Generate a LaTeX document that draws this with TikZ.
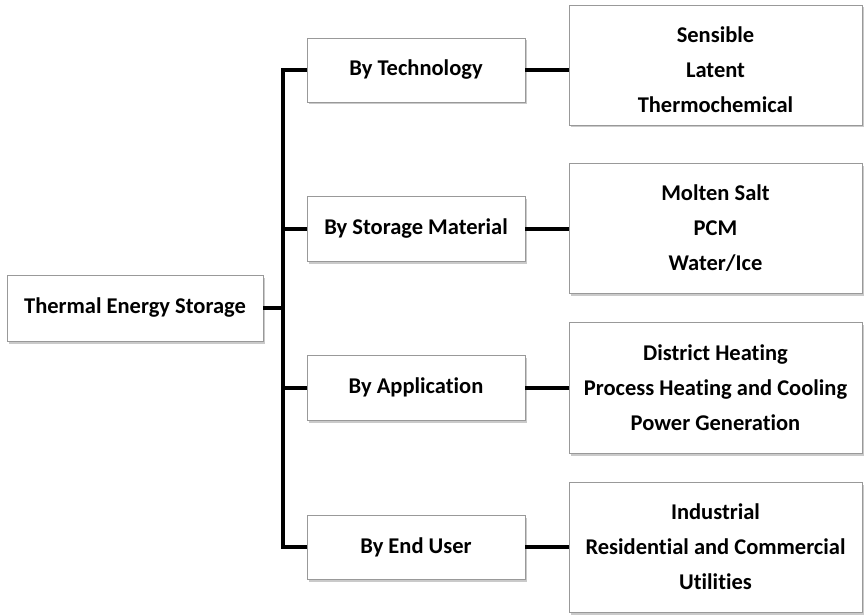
\documentclass[tikz,border=0pt]{standalone}
\usepackage{fontspec}
\setmainfont[Ligatures=NoCommon]{Carlito}
\usetikzlibrary{shadows}
\begin{document}
\begin{tikzpicture}[x=1pt,y=-1pt,
  txt/.style={inner sep=0pt, align=center, font=\bfseries\fontsize{22.5}{35}\selectfont},
  box/.style={txt, draw=black!40, line width=0.8pt, fill=white,
    drop shadow={shadow xshift=1.5pt, shadow yshift=-2.5pt, opacity=0.35, fill=black!60}},
  conn/.style={line width=4pt, black}]
\useasboundingbox (0,0) rectangle (864,615);
\node[box, minimum width=256pt, minimum height=66pt] (root) at (135,308) {Thermal Energy Storage};
\node[box, minimum width=218pt, minimum height=64pt] (tech) at (416,70) {By Technology};
\node[box, minimum width=218pt, minimum height=65pt] (mat) at (416,228.5) {By Storage Material};
\node[box, minimum width=218pt, minimum height=65pt] (app) at (416,387.5) {By Application};
\node[box, minimum width=218pt, minimum height=64pt] (user) at (416,547) {By End User};
\node[box, minimum width=293pt, minimum height=120pt] (r1) at (715.5,65) {};
\node[txt] (r1t) at (715.5,70) {Sensible\\Latent\\Thermochemical};
\node[box, minimum width=293pt, minimum height=130pt] (r2) at (715.5,228) {Molten Salt\\PCM\\Water/Ice};
\node[box, minimum width=293pt, minimum height=131pt] (r3) at (715.5,387.5) {District Heating\\Process Heating and Cooling\\Power Generation};
\node[box, minimum width=293pt, minimum height=130pt] (r4) at (715.5,547) {Industrial\\Residential and Commercial\\Utilities};
\coordinate (j) at (283,308);
\draw[conn] (root.east) -- (j);
\draw[conn] (tech.west) -| (j) |- (user.west);
\draw[conn] (mat.west) -- (mat.west -| j);
\draw[conn] (app.west) -- (app.west -| j);
\draw[conn] (tech.east) -- (tech.east -| r1.west);
\draw[conn] (mat.east) -- (mat.east -| r2.west);
\draw[conn] (app.east) -- (app.east -| r3.west);
\draw[conn] (user.east) -- (user.east -| r4.west);
\end{tikzpicture}
\end{document}
